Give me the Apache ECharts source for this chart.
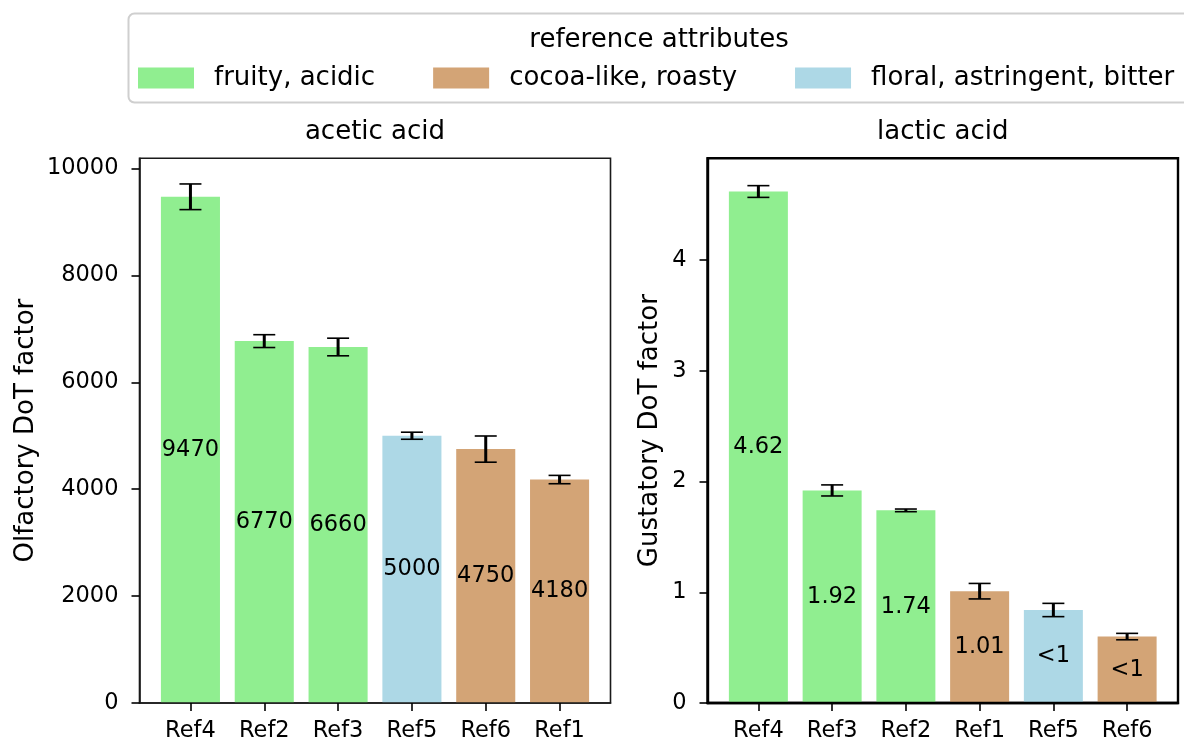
<!DOCTYPE html>
<html>
<head>
<meta charset="utf-8">
<title>DoT factors of reference samples</title>
<script src="https://cdn.jsdelivr.net/npm/echarts@6/dist/echarts.min.js"></script>
<style>
  html, body { margin: 0; padding: 0; background: #fff; }
  #chart { width: 1184px; height: 743px; }
</style>
</head>
<body>
<div id="chart"></div>
<script>
// ---- data ----
const groupNames = ['fruity, acidic', 'cocoa-like, roasty', 'floral, astringent, bitter'];
const groupColors = ['#90EE90', '#D3A476', '#ADD8E6'];

// acetic acid (olfactory)
const aceticCats = ['Ref4', 'Ref2', 'Ref3', 'Ref5', 'Ref6', 'Ref1'];
const aceticValues = [9470, 6770, 6660, 5000, 4750, 4180];
const aceticErr = [240, 120, 165, 66, 245, 78];
const aceticGroup = [0, 0, 0, 2, 1, 1];
const aceticLabels = ['9470', '6770', '6660', '5000', '4750', '4180'];
const aceticTicks = [0, 2000, 4000, 6000, 8000, 10000];

// lactic acid (gustatory)
const lacticCats = ['Ref4', 'Ref3', 'Ref2', 'Ref1', 'Ref5', 'Ref6'];
const lacticValues = [4.62, 1.92, 1.74, 1.01, 0.84, 0.60];
const lacticErr = [0.053, 0.05, 0.012, 0.07, 0.06, 0.029];
const lacticGroup = [0, 0, 0, 1, 2, 1];
const lacticLabels = ['4.62', '1.92', '1.74', '1.01', '<1', '<1'];
const lacticTicks = [0, 1, 2, 3, 4];

// ---- layout ----
const FONT = 'DejaVu Sans';
const SMALL = 22.5;
const LARGE = 26;
const plotTop = 158.3;
const plotHeight = 545;
const panels = [
  { left: 139.5, width: 471, cats: aceticCats, values: aceticValues, err: aceticErr,
    group: aceticGroup, labels: aceticLabels, ticks: aceticTicks, yMax: 10190,
    title: 'acetic acid', yName: 'Olfactory DoT factor', nameGap: 100, border: 1.6, borderColor: '#1a1a1a' },
  { left: 707.5, width: 470.5, cats: lacticCats, values: lacticValues, err: lacticErr,
    group: lacticGroup, labels: lacticLabels, ticks: lacticTicks, yMax: 4.92,
    title: 'lactic acid', yName: 'Gustatory DoT factor', nameGap: 44, border: 2.4, borderColor: '#000' }
];
const xMin = -0.69, xMax = 5.69;

const grids = [], xAxes = [], yAxes = [], series = [], graphics = [];

panels.forEach((p, gi) => {
  const unitPx = p.width / (xMax - xMin);
  const barPx = 0.8 * unitPx;
  const idx = p.cats.map((_, i) => i);

  grids.push({
    left: p.left, top: plotTop, width: p.width, height: plotHeight,
    show: true, borderColor: p.borderColor, borderWidth: p.border, backgroundColor: 'transparent'
  });

  xAxes.push({
    type: 'value', gridIndex: gi, min: xMin, max: xMax, z: 10,
    splitLine: { show: false },
    axisLine: { show: true, onZero: false, lineStyle: { color: p.borderColor, width: p.border } },
    axisTick: { show: true, customValues: idx, length: 8, lineStyle: { color: '#000', width: 1.6 } },
    axisLabel: {
      customValues: idx, margin: 17, fontSize: SMALL, color: '#000', fontFamily: FONT,
      formatter: v => p.cats[Math.round(v)]
    }
  });

  yAxes.push({
    type: 'value', gridIndex: gi, min: 0, max: p.yMax, z: 10,
    splitLine: { show: false },
    axisLine: { show: true, onZero: false, lineStyle: { color: p.borderColor, width: p.border } },
    axisTick: { show: true, customValues: p.ticks, length: 8, lineStyle: { color: '#000', width: 1.6 } },
    axisLabel: {
      customValues: p.ticks, margin: 21, fontSize: SMALL, color: '#000', fontFamily: FONT,
      formatter: v => String(v)
    },
    name: p.yName, nameLocation: 'middle', nameGap: p.nameGap, nameRotate: 90,
    nameTextStyle: { fontSize: LARGE, color: '#000', fontFamily: FONT }
  });

  // one bar series per attribute group, overlapping at each position
  groupNames.forEach((gname, k) => {
    const data = [];
    idx.forEach(i => { if (p.group[i] === k) data.push([i, p.values[i]]); });
    series.push({
      type: 'bar', name: gname, xAxisIndex: gi, yAxisIndex: gi,
      data: data, barWidth: barPx, barGap: '-100%',
      itemStyle: { color: groupColors[k] },
      label: {
        show: true, position: 'inside', fontSize: SMALL, color: '#000', fontFamily: FONT,
        formatter: prm => p.labels[prm.value[0]]
      },
      emphasis: { disabled: true },
      animation: false
    });
  });

  // error bars
  series.push({
    type: 'custom', xAxisIndex: gi, yAxisIndex: gi, z: 5,
    data: idx.map(i => [i, p.values[i], p.err[i]]),
    renderItem: (params, api) => {
      const x = api.value(0), v = api.value(1), e = api.value(2);
      const top = api.coord([x, v + e]);
      const bot = api.coord([x, v - e]);
      const cap = 11;
      return {
        type: 'group',
        children: [
          { type: 'line', shape: { x1: top[0], y1: top[1], x2: bot[0], y2: bot[1] },
            style: { stroke: '#000', lineWidth: 3 } },
          { type: 'line', shape: { x1: top[0] - cap, y1: top[1], x2: top[0] + cap, y2: top[1] },
            style: { stroke: '#000', lineWidth: 1.6 } },
          { type: 'line', shape: { x1: bot[0] - cap, y1: bot[1], x2: bot[0] + cap, y2: bot[1] },
            style: { stroke: '#000', lineWidth: 1.6 } }
        ]
      };
    },
    silent: true,
    animation: false
  });

  // panel title
  graphics.push({
    type: 'text', x: p.left + p.width / 2, y: 132, z: 20,
    style: { text: p.title, fontSize: LARGE, fontFamily: FONT, fill: '#000',
             textAlign: 'center', textVerticalAlign: 'middle' }
  });
});

// legend frame and heading
graphics.push({
  type: 'rect', z: -1,
  shape: { x: 128.5, y: 13.5, width: 1062, height: 89, r: 6 },
  style: { fill: '#fff', stroke: '#cfcfcf', lineWidth: 2 }
});
graphics.push({
  type: 'text', x: 659, y: 40, z: 20,
  style: { text: 'reference attributes', fontSize: LARGE, fontFamily: FONT, fill: '#000',
           textAlign: 'center', textVerticalAlign: 'middle' }
});

const chart = echarts.init(document.getElementById('chart'), null, { renderer: 'canvas' });
chart.setOption({
  animation: false,
  backgroundColor: '#fff',
  textStyle: { fontFamily: FONT },
  grid: grids,
  xAxis: xAxes,
  yAxis: yAxes,
  legend: {
    data: groupNames.map(n => ({ name: n, icon: 'rect' })),
    left: 138, top: 65, orient: 'horizontal',
    itemWidth: 56, itemHeight: 21, itemGap: 58,
    textStyle: { fontSize: LARGE, color: '#000', fontFamily: FONT, padding: [0, 0, 0, 15] },
    selectedMode: false, padding: 0
  },
  series: series,
  graphic: graphics
});
</script>
</body>
</html>
